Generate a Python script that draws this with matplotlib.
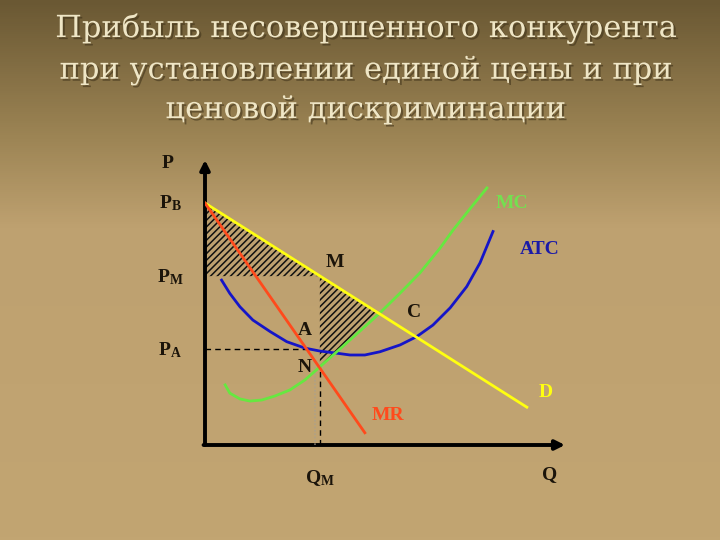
import numpy as np
import matplotlib
matplotlib.use("Agg")
import matplotlib.pyplot as plt
import matplotlib.patheffects as pe
from matplotlib.colors import LinearSegmentedColormap

plt.rcParams['font.family'] = ['Liberation Serif', 'DejaVu Serif']
plt.rcParams['mathtext.fontset'] = 'custom'
plt.rcParams['mathtext.rm'] = 'Liberation Serif:bold'
plt.rcParams['mathtext.bf'] = 'Liberation Serif:bold'
plt.rcParams['mathtext.it'] = 'Liberation Serif:bold'
plt.rcParams['hatch.linewidth'] = 1.1

# --- data ---
title_lines = ["Прибыль несовершенного конкурента",
               "при установлении единой цены и при",
               "ценовой дискриминации"]

# demand D and marginal revenue MR (straight lines: Q, P)
d_q = [0.0, 8.94]
d_p = [6.72, 1.05]
mr_q = [0.0, 4.44]
mr_p = [6.72, 0.34]

# marginal cost MC
mc_q = [0.56, 0.69, 0.97, 1.25, 1.58, 1.94, 2.36, 2.78, 3.19, 3.75, 4.31,
        4.86, 5.42, 5.97, 6.53, 6.89, 7.36, 7.83]
mc_p = [1.67, 1.44, 1.28, 1.22, 1.25, 1.36, 1.53, 1.81, 2.17, 2.67, 3.17,
        3.67, 4.22, 4.78, 5.47, 5.97, 6.56, 7.14]

# average total cost ATC
atc_q = [0.46, 0.69, 0.97, 1.33, 1.81, 2.27, 2.78, 3.19, 3.66, 4.03, 4.44,
         4.86, 5.42, 5.88, 6.33, 6.81, 7.27, 7.64, 8.0]
atc_p = [4.58, 4.21, 3.84, 3.47, 3.15, 2.87, 2.69, 2.61, 2.55, 2.50, 2.50,
         2.59, 2.78, 3.01, 3.33, 3.81, 4.40, 5.06, 5.93]

p_b = 6.72
p_m = 4.69
p_a = 2.67
q_m = 3.19
q_a = 2.81
n_p = 2.17
q_c = 4.86

# --- figure & background ---
fig = plt.figure(figsize=(7.2, 5.4), dpi=100)
bg = fig.add_axes([0, 0, 1, 1])
grad = LinearSegmentedColormap.from_list(
    "bg", [(0.0, "#6a5833"), (0.25, "#9c8454"), (0.42, "#bea170"), (1.0, "#c2a572")])
g = np.linspace(0, 1, 540).reshape(-1, 1)
bg.imshow(g, cmap=grad, aspect='auto', extent=[0, 1, 0, 1], origin='upper')
bg.set_xlim(0, 1)
bg.set_ylim(0, 1)
bg.axis('off')

ys = [0.948, 0.870, 0.797]
for line, yy in zip(title_lines, ys):
    bg.text(0.507, yy, line, ha='center', va='center', fontsize=22,
            family=['DejaVu Serif'], color='#efe6c6',
            path_effects=[pe.withSimplePatchShadow(offset=(1.5, -1.5),
                                                   shadow_rgbFace='#3b2f17', alpha=0.55)])

# --- main axes ---
ax = fig.add_axes([205 / 720, 95 / 540, 360 / 720, 285 / 540])
ax.set_facecolor('none')
ax.set_xlim(0, 10)
ax.set_ylim(0, 285 / 36)
ax.axis('off')

# axes with arrows
ax.annotate('', xy=(0, 285 / 36), xytext=(0, 0),
            arrowprops=dict(arrowstyle='-|>', lw=2.8, color='black',
                            mutation_scale=14, shrinkA=0, shrinkB=0),
            annotation_clip=False)
ax.annotate('', xy=(10, 0), xytext=(-0.04, 0),
            arrowprops=dict(arrowstyle='-|>', lw=2.8, color='black',
                            mutation_scale=14, shrinkA=0, shrinkB=0),
            annotation_clip=False)

# hatched profit areas
q1 = np.array([0.0, q_m])
ax.fill_between(q1, p_m, np.interp(q1, d_q, d_p), facecolor='none',
                edgecolor='#111111', hatch='/////', linewidth=0, zorder=2)
mc_q2 = [q for q in mc_q if q_m <= q <= q_c]
mc_p2 = [p for q, p in zip(mc_q, mc_p) if q_m <= q <= q_c]
ax.fill_between(mc_q2, mc_p2, np.interp(mc_q2, d_q, d_p), facecolor='none',
                edgecolor='#111111', hatch='/////', linewidth=0, zorder=2)

# dashed guides
ax.plot([0, q_a], [p_a, p_a], color='black', lw=1, ls=(0, (4, 3)), zorder=3)
ax.plot([q_m, q_m], [0, n_p], color='black', lw=1, ls=(0, (4, 3)), zorder=3)
ax.plot([q_m - 0.13, q_m - 0.13], [0, n_p], color='#a8a090', lw=1.2,
        ls=(0, (1, 1)), alpha=0.7, zorder=3)

# curves
ax.plot(atc_q, atc_p, color='#1515c8', lw=2, zorder=4)
ax.plot(mc_q, mc_p, color='#66e840', lw=2, zorder=4)
ax.plot(d_q, d_p, color='#ffff10', lw=2, zorder=5)
ax.plot(mr_q, mr_p, color='#ff4a1c', lw=2, zorder=5)

# labels
lab = dict(fontsize=14, fontweight='bold', ha='center', va='center',
           color='#1b140a', clip_on=False)
ax.text(-1.03, 7.83, 'P', **lab)
ax.text(-0.97, p_b, r'$\mathrm{P_B}$', **lab)
ax.text(-0.97, p_m - 0.03, r'$\mathrm{P_M}$', **lab)
ax.text(-0.97, p_a - 0.03, r'$\mathrm{P_A}$', **lab)
ax.text(3.61, 5.08, 'M', **lab)
ax.text(2.78, 3.19, 'A', **lab)
ax.text(2.78, 2.14, 'N', **lab)
ax.text(5.8, 3.69, 'C', **lab)
ax.text(3.19, -0.92, r'$\mathrm{Q_M}$', **lab)
ax.text(9.58, -0.83, 'Q', **lab)
lab.pop('color')
ax.text(8.53, 6.72, 'MC', color='#74e050', **lab)
ax.text(9.31, 5.42, 'ATC', color='#1a1aa8', **lab)
ax.text(9.47, 1.47, 'D', color='#ffff10', **lab)
ax.text(5.08, 0.81, 'MR', color='#ff4a1c', **lab)

fig.savefig('out.png', dpi=100)
